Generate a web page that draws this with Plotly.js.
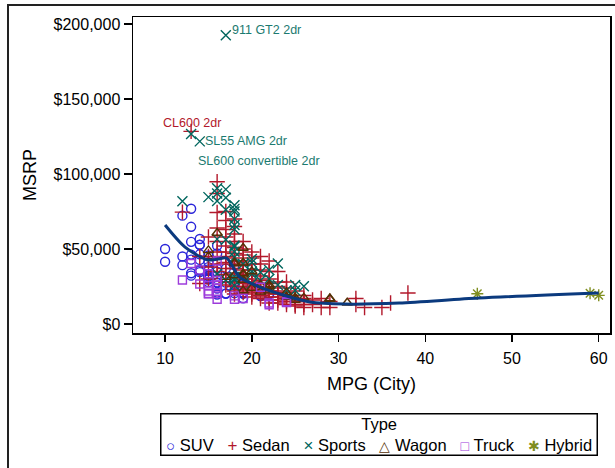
<!DOCTYPE html>
<html><head><meta charset="utf-8">
<script src="https://cdn.plot.ly/plotly-3.0.1.min.js"></script>
<style>
html,body{margin:0;padding:0;background:#fff;overflow:hidden}
#chart{position:absolute;left:0;top:0;width:615px;height:468px}
#frame{position:absolute;left:7px;top:4px;width:700px;height:600px;border-left:2px solid #222;border-top:2px solid #222;pointer-events:none}
</style></head><body>
<div id="chart"></div><div id="frame"></div>
<script>
// ---- data (MPG City, MSRP) ----
const types = ['SUV','Sedan','Sports','Wagon','Truck','Hybrid'];

const suvMpg  = [10,10,12,12,12,13,13,13,13,13,13,13,14,14,14,14,14,14,14,14,14,15,15,15,15,15,15,15,15,15,15,15,15,16,16,16,16,16,16,16,16,16,16,17,17,17,17,17,18,18,18,18,18,19,19,19,19,19,21,21,22,22];
const suvMsrp = [49995,41475,72250,39250,45000,76870,64800,54765,46265,42915,33840,32235,56665,52795,52775,46470,42735,35940,35725,35695,34560,45700,41250,37895,36395,35515,33112,31890,31849,30295,29670,29995,27905,52195,46995,37000,34895,27710,27339,25520,23699,20939,19635,36945,30492,27560,20449,20130,39195,27930,25995,22515,20585,26545,20255,20315,21087,17163,18690,18892,19860,20290];

const sedanMpg  = [12,13,14,14,15,15,15,15,
  16,16,16,16,16,16,16,16,
  17,17,17,17,17,17,17,17,17,17,17,17,
  18,18,18,18,18,18,18,18,18,18,18,18,18,18,18,
  19,19,19,19,19,19,19,19,19,19,19,19,
  20,20,20,20,20,20,20,20,20,20,20,20,
  21,21,21,21,21,21,21,21,21,21,21,
  22,22,22,22,22,22,22,22,22,22,
  23,23,23,23,23,23,23,23,
  24,24,24,24,24,24,24,
  25,25,25,25,25,25,
  26,26,26,26,26,
  27,27,28,28,29,29,32,32,33,35,36,38];
const sedanMsrp = [74600,128420,27000,45000,58000,45000,30000,38000,
  94820,86970,74320,64000,55000,48000,40000,35000,
  75000,69000,63000,58000,52000,48000,45000,41000,37000,33000,28000,26000,
  70000,65000,60000,55000,51000,47000,44000,40000,37000,34000,31000,28000,25000,22000,20000,
  55000,50000,46000,42000,39000,36000,33000,30000,27000,25000,23000,21000,
  48000,44000,40000,36000,33000,30000,28000,26000,24000,22000,20000,18000,
  45000,40000,36000,32000,29000,27000,25000,23000,21000,19000,17000,
  42000,35000,30000,27000,24000,22000,20000,18000,16000,14000,
  35000,28000,25000,22000,20000,18000,16000,14000,
  28000,24000,21000,19000,17000,15000,13000,
  22000,19000,17000,15000,13000,12000,
  19000,17000,15000,13000,11000,
  16000,13000,17000,11000,15000,11000,17000,13000,11000,11000,14000,20700];

const sportsMpg  = [12,13,14,15,16,16,16,16,16,17,17,17,17,17,17,18,18,18,18,18,18,18,18,18,18,18,18,18,18,19,20,20,20,20,20,21,21,22,22,23,23,24,25,25,26];
const sportsMsrp = [81795,126670,121770,84600,90520,86995,81995,56595,33500,192465,84165,89765,76200,56170,29380,79165,76765,74995,69995,63200,52365,51535,44535,31545,29562,25700,48195,29795,66000,40000,43365,33260,26910,34895,41000,34495,29000,35940,30000,40320,26000,22570,22388,26000,25130];

const wagonMpg  = [15,15,16,17,18,18,18,19,19,19,19,19,19,20,20,21,21,22,22,22,24,24,25,25,26,29,29,31];
const wagonMsrp = [49090,45000,60670,31230,40840,40235,32455,50670,33780,40845,32845,22290,29345,35145,23895,21445,26000,22225,26135,24955,21055,18000,17495,16000,17475,16695,17045,14165];

const truckMpg  = [12,13,14,14,15,15,15,15,15,16,16,16,16,16,16,16,18,18,19,21,22,22,24,24];
const truckMsrp = [29322,40340,36100,26650,20310,20215,22010,33540,25717,41995,20300,26000,16495,25935,29000,24000,18760,16530,17000,24520,12800,14000,14385,14840];

const hybridMpg  = [46,59,60];
const hybridMsrp = [20140,20510,19110];

// loess fit curve
const fitMpg  = [10,12.3,14.9,16.1,17.1,18.6,20.9,23.6,26.7,30.7,37,46.2,60];
const fitMsrp = [66000,51300,42700,43300,44000,31300,24700,19300,14700,13300,14000,17300,20700];

// labelled points
const labelText = ['911 GT2 2dr','CL600 2dr','SL55 AMG 2dr','SL600 convertible 2dr'];
const labelMpg  = [17,13,14,13];
const labelMsrp = [192465,128420,121770,126670];

const xTicks = [10,20,30,40,50,60];
const yTicks = [0,50000,100000,150000,200000];

// ---- styles ----
const colors  = ['#2A25D9','#B2182B','#01665E','#543005','#9D3CDB','#7F8E1F'];
const symbols = ['circle-open','cross-thin-open','x-thin-open','triangle-up-open','square-open','asterisk-open'];
const sizes   = [9,11,10,9,8,10];
const glyphs  = ['○','+','×','△','□','✱'];
const glyphSize = [15,17,17,14,14,14];
const labelColor = ['#1b7a70','#B2182B','#1b7a70','#1b7a70'];
const labelPos = [
  {xanchor:'left',  yanchor:'middle', xshift:4,  yshift:5},
  {xanchor:'center',yanchor:'middle', xshift:1,  yshift:8},
  {xanchor:'left',  yanchor:'middle', xshift:3,  yshift:0},
  {xanchor:'left',  yanchor:'middle', xshift:5,  yshift:-27}
];
const FONT = '"Liberation Sans", Arial, sans-serif';
const NB = '\u00A0';

const xs = [suvMpg, sedanMpg, sportsMpg, wagonMpg, truckMpg, hybridMpg];
const ys = [suvMsrp, sedanMsrp, sportsMsrp, wagonMsrp, truckMsrp, hybridMsrp];

const traces = types.map((t,i)=>({
  type:'scatter', mode:'markers', name:t, x:xs[i], y:ys[i], showlegend:false,
  marker:{symbol:symbols[i], size:sizes[i], color:colors[i], line:{width:1.4, color:colors[i]}}
}));
traces.push({type:'scatter', mode:'lines', x:fitMpg, y:fitMsrp, showlegend:false,
  line:{color:'#0b3a7e', width:3, shape:'spline', smoothing:0.8}});

const annotations = labelText.map((t,i)=>Object.assign({
  xref:'x', yref:'y', x:labelMpg[i], y:labelMsrp[i], text:t, showarrow:false,
  font:{family:FONT, size:12.5, color:labelColor[i]}
}, labelPos[i]));

// legend box
const legendRow = types.map((t,i)=>
  `<span style="color:${colors[i]};font-size:${glyphSize[i]}px">${glyphs[i]}</span>${NB}${t}`).join(NB+NB+NB);
annotations.push({
  xref:'paper', yref:'paper', x:0.516, y:-0.252, xanchor:'center', yanchor:'top',
  showarrow:false, align:'center', text:'Type<br>'+NB+legendRow+NB,
  font:{family:FONT, size:16.5, color:'#000'},
  bordercolor:'#000', borderwidth:1.5, borderpad:0, bgcolor:'#fff'
});

const layout = {
  width:615, height:468,
  margin:{l:133, r:5, t:17, b:135},
  paper_bgcolor:'#fff', plot_bgcolor:'#fff',
  font:{family:FONT, color:'#000', size:16},
  showlegend:false,
  xaxis:{range:[6.3,61.3], tickvals:xTicks, ticks:'outside', ticklen:7, tickwidth:1.5, tickcolor:'#000',
    ticklabelstandoff:3,
    showline:true, mirror:true, linecolor:'#000', linewidth:1.5, showgrid:false, zeroline:false,
    tickfont:{family:FONT, size:16}, title:{text:'MPG (City)', font:{family:FONT, size:18}, standoff:11}},
  yaxis:{range:[-6000,204700], tickvals:yTicks, tickformat:'$,.0f', ticks:'outside', ticklen:8, tickwidth:1.5, tickcolor:'#000',
    showline:true, mirror:true, linecolor:'#000', linewidth:1.5, showgrid:false, zeroline:false,
    tickfont:{family:FONT, size:16}, title:{text:'MSRP', font:{family:FONT, size:18}, standoff:12}},
  annotations:annotations
};

Plotly.newPlot('chart', traces, layout, {staticPlot:true, displayModeBar:false});
</script></body></html>
